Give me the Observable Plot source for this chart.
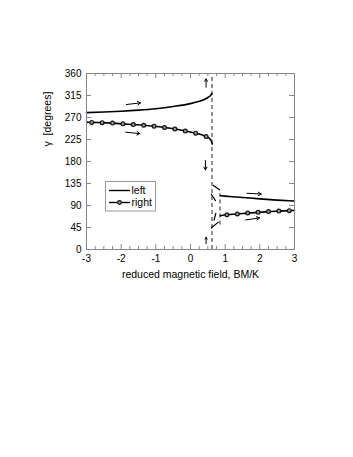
<!DOCTYPE html>
<html>
<head>
<meta charset="utf-8">
<script src="https://cdn.jsdelivr.net/npm/d3@7"></script>
<script src="https://cdn.jsdelivr.net/npm/@observablehq/plot@0.6"></script>
<style>
  html, body { margin: 0; padding: 0; background: #fff; }
  #wrap { position: relative; width: 353px; height: 457px; font-family: "Liberation Sans", Arial, sans-serif; }
  #legend { position: absolute; left: 105px; top: 181px; }
</style>
</head>
<body>
<div id="wrap"></div>
<script>
// ---- data ----
const xTicks = [-3, -2, -1, 0, 1, 2, 3];
const xMinor = d3.range(-3, 3.001, 0.25).filter(v => Math.abs(v - Math.round(v)) > 1e-6);
const yTicks = [0, 45, 90, 135, 180, 225, 270, 315, 360];

// "left" branch (solid line)
const leftUpperX = [-3, -2.5, -2, -1.5, -1, -0.5, 0, 0.2, 0.4, 0.5, 0.57, 0.62];
const leftUpperY = [280, 281.2, 282.8, 285, 288, 292.5, 298.4, 302, 307, 311, 314.5, 319];
const leftLowerX = [0.86, 1, 1.5, 2, 2.5, 3];
const leftLowerY = [110, 109.2, 106.5, 103.5, 101, 99];

// "right" branch (line with circles)
const rightUpperX = [-3, -2.85, -2.55, -2.25, -1.95, -1.65, -1.35, -1.05, -0.75, -0.45, -0.15, 0.15, 0.45, 0.55, 0.6, 0.63];
const rightUpperY = [260.5, 260, 259.5, 258.5, 257, 255.5, 254, 252, 249.5, 246.5, 242.5, 238, 231, 227, 222, 216];
const rightLowerX = [0.86, 1.05, 1.35, 1.65, 1.95, 2.25, 2.55, 2.85, 3];
const rightLowerY = [69, 71, 72.5, 74.5, 76, 77.5, 78.5, 79.5, 80];
const markerX = [-2.85, -2.55, -2.25, -1.95, -1.65, -1.35, -1.05, -0.75, -0.45, -0.15, 0.15, 0.45, 1.05, 1.35, 1.65, 1.95, 2.25, 2.55, 2.85];
const markerY = [260, 259.5, 258.5, 257, 255.5, 254, 252, 249.5, 246.5, 242.5, 238, 231, 71, 72.5, 74.5, 76, 77.5, 78.5, 79.5];

// dashed jump lines
const dashX  = [0.62, 0.85];
const dashY1 = [0, 50];
const dashY2 = [360, 114];

// straight arrows
const arrX1 = [-1.85, -1.87, 1.63, 1.59, 0.45, 0.43, 0.45];
const arrY1 = [296.5, 240, 115, 60.5, 332, 182, 12];
const arrX2 = [-1.44, -1.46, 2.04, 1.99, 0.45, 0.43, 0.45];
const arrY2 = [300, 237, 113.5, 64.5, 349, 163, 25];

// small curved arrows near the jump
const carX1 = [0.84, 0.6, 0.68, 0.6];
const carY1 = [122, 113, 60, 44];
const carX2 = [0.66, 0.72, 0.73, 0.8];
const carY2 = [131, 100, 74, 56];
const carBend = [-30, 70, 70, -70];
const carHead = [4, 4, 4, 0];

// ---- build ----
const zip = (xs, ys) => xs.map((x, i) => ({x, y: ys[i]}));
const idx = a => a.map((_, i) => i);
const frameW = 353 - 86 - 59, frameH = 457 - 73 - 208;
const font = "Liberation Sans, Arial, sans-serif";

const chart = Plot.plot({
  width: 353,
  height: 457,
  marginLeft: 86,
  marginRight: 59,
  marginTop: 73,
  marginBottom: 208,
  style: {fontFamily: font, fontSize: "10px", color: "#000", background: "#fff"},
  x: {domain: [-3, 3]},
  y: {domain: [0, 360]},
  marks: [
    // dashed jump lines
    Plot.ruleX(idx(dashX), {x: i => dashX[i], y1: i => dashY1[i], y2: i => dashY2[i], stroke: "#777", strokeWidth: 1.6, strokeDasharray: "4,3"}),
    // curves
    Plot.line(zip(leftUpperX, leftUpperY), {x: "x", y: "y", stroke: "#000", strokeWidth: 1.6, curve: "monotone-x"}),
    Plot.line(zip(leftLowerX, leftLowerY), {x: "x", y: "y", stroke: "#000", strokeWidth: 1.6, curve: "monotone-x"}),
    Plot.line(zip(rightUpperX, rightUpperY), {x: "x", y: "y", stroke: "#000", strokeWidth: 1.6, curve: "monotone-x"}),
    Plot.line(zip(rightLowerX, rightLowerY), {x: "x", y: "y", stroke: "#000", strokeWidth: 1.6, curve: "monotone-x"}),
    Plot.dot(zip(markerX, markerY), {x: "x", y: "y", r: 1.9, stroke: "#111", strokeWidth: 1.2, fill: "#999"}),
    // arrows
    Plot.arrow(idx(arrX1), {x1: i => arrX1[i], y1: i => arrY1[i], x2: i => arrX2[i], y2: i => arrY2[i], stroke: "#000", strokeWidth: 1, headLength: 5}),
    Plot.arrow(idx(carX1), {x1: i => carX1[i], y1: i => carY1[i], x2: i => carX2[i], y2: i => carY2[i], bend: i => carBend[i], headLength: i => carHead[i], stroke: "#000", strokeWidth: 1.2}),
    // frame and inward ticks
    Plot.frame({stroke: "#888"}),
    Plot.tickX(xTicks, {x: d => d, insetTop: frameH - 5, stroke: "#888"}),
    Plot.tickX(xTicks, {x: d => d, insetBottom: frameH - 5, stroke: "#888"}),
    Plot.tickX(xMinor, {x: d => d, insetTop: frameH - 3, stroke: "#888"}),
    Plot.tickX(xMinor, {x: d => d, insetBottom: frameH - 3, stroke: "#888"}),
    Plot.tickY(yTicks, {y: d => d, insetRight: frameW - 5, stroke: "#888"}),
    Plot.tickY(yTicks, {y: d => d, insetLeft: frameW - 5, stroke: "#888"}),
    // tick labels
    Plot.axisX(xTicks, {tickSize: 0, tickPadding: 5, tickFormat: d => String(d), label: null, fontSize: 10}),
    Plot.axisY(yTicks, {tickSize: 0, tickPadding: 5, tickFormat: d => String(d), label: null, fontSize: 10}),
    // axis titles
    Plot.text(["reduced magnetic field, BM/K"], {frameAnchor: "bottom", dy: 28, fontSize: 10.5, fill: "#000"}),
    Plot.text(["γ  [degrees]"], {frameAnchor: "left", dx: -39, dy: -15, rotate: -90, fontSize: 10.5, fill: "#000"})
  ]
});
document.getElementById("wrap").appendChild(chart);

// legend box (inside plot area)
const legend = document.createElement("div");
legend.id = "legend";
legend.innerHTML = `
<svg width="52" height="31" xmlns="http://www.w3.org/2000/svg" style="font-family:${font};font-size:10.5px">
  <rect x="0.5" y="0.5" width="50" height="29.5" fill="#fff" stroke="#999"/>
  <line x1="4" x2="25" y1="9.5" y2="9.5" stroke="#000" stroke-width="1.4"/>
  <text x="26.5" y="13" fill="#000">left</text>
  <line x1="4" x2="25" y1="21.5" y2="21.5" stroke="#000" stroke-width="1.4"/>
  <circle cx="14.5" cy="21.5" r="1.9" fill="#999" stroke="#111" stroke-width="1.1"/>
  <text x="26.5" y="25" fill="#000">right</text>
</svg>`;
document.getElementById("wrap").appendChild(legend);
</script>
</body>
</html>
